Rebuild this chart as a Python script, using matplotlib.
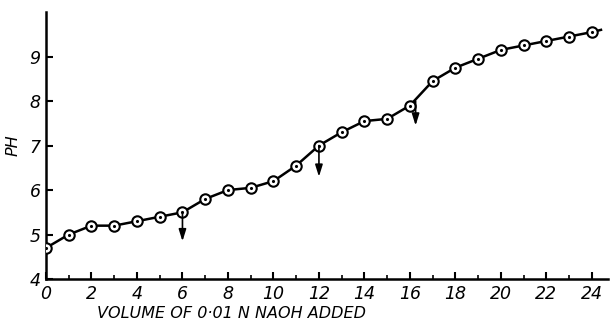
import matplotlib
matplotlib.use("Agg")
import matplotlib.pyplot as plt

# titration readings
volume = [0, 1, 2, 3, 4, 5, 6, 7, 8, 9, 10, 11, 12,
          13, 14, 15, 16, 17, 18, 19, 20, 21, 22, 23, 24]
ph = [4.70, 5.0, 5.2, 5.2, 5.3, 5.4, 5.5, 5.8, 6.0, 6.05, 6.2, 6.55, 7.0,
      7.3, 7.55, 7.6, 7.9, 8.45, 8.75, 8.95, 9.15, 9.25, 9.35, 9.45, 9.55]

# end points marked by arrows (x, from, to)
arrow_x = [6, 12, 16.25]
arrow_top = [5.5, 7.0, 8.0]
arrow_tip = [4.85, 6.3, 7.45]

xticks = [0, 2, 4, 6, 8, 10, 12, 14, 16, 18, 20, 22, 24]
yticks = [4, 5, 6, 7, 8, 9]

font = {"family": "DejaVu Sans", "style": "italic"}

fig = plt.figure(figsize=(6.1, 3.26), dpi=100)
ax = fig.add_axes([0.0754, 0.144, 0.921, 0.819])

ax.plot(volume + [24.4], ph + [9.6], color="black", lw=1.8, zorder=2)
ax.plot(volume, ph, "o", ms=7.5, mfc="white", mec="black", mew=1.5, zorder=3)
ax.plot(volume, ph, ".", ms=2.5, color="black", zorder=4)

for x, y0, y1 in zip(arrow_x, arrow_top, arrow_tip):
    ax.annotate("", xy=(x, y1), xytext=(x, y0),
                arrowprops=dict(arrowstyle="-|>,head_length=0.7,head_width=0.22",
                                color="black", lw=1.2, shrinkA=0, shrinkB=0))

ax.set_xlim(0, 24.7)
ax.set_ylim(4, 10)
ax.set_xticks(xticks)
ax.set_xticks(range(1, 25, 2), minor=True)
ax.set_yticks(yticks)
for s in ["top", "right"]:
    ax.spines[s].set_visible(False)
for s in ["left", "bottom"]:
    ax.spines[s].set_linewidth(1.8)
ax.tick_params(direction="in", length=5, width=1.5, pad=4)
ax.tick_params(which="minor", direction="in", length=3, width=1.2)
ax.set_xticklabels([str(t) for t in xticks], fontsize=12.5, **font)
ax.set_yticklabels([str(t) for t in yticks], fontsize=12.5, **font)

ax.set_ylabel("PH", fontsize=11.5, **font)
ax.yaxis.set_label_coords(-0.045, 0.5)
ax.set_xlabel("VOLUME OF 0·01 N NAOH ADDED", fontsize=11.5, **font)
ax.xaxis.set_label_coords(0.33, -0.1)

fig.savefig("out.png", dpi=100)
